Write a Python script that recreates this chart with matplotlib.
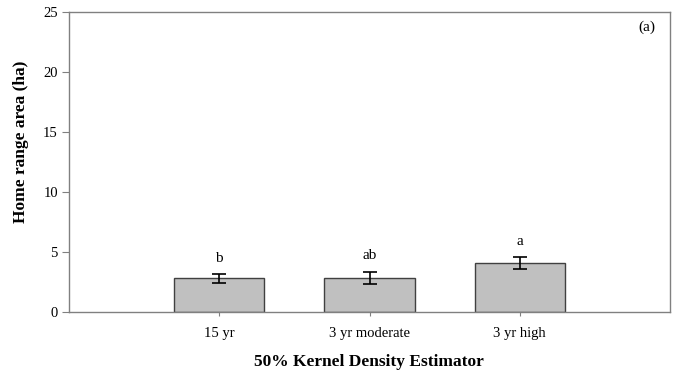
import matplotlib
matplotlib.use("Agg")
import matplotlib.pyplot as plt

plt.rcParams['font.family'] = ['Liberation Serif', 'DejaVu Serif']

categories = ["15 yr", "3 yr moderate", "3 yr high"]
means = [2.8, 2.85, 4.05]
errors = [0.35, 0.5, 0.5]
letters = ["b", "ab", "a"]

W, H = 673, 375
fig = plt.figure(figsize=(W / 100, H / 100), dpi=100)
ax = fig.add_axes([69 / W, 1 - 312 / H, 601 / W, 300 / H])

pos = list(range(1, len(categories) + 1))
ax.bar(pos, means, width=0.6, color="#c0c0c0", edgecolor="#404040", linewidth=1.0, zorder=2)
ax.errorbar(pos, means, yerr=errors, fmt="none", ecolor="black", elinewidth=1.2,
            capsize=5, capthick=1.2, zorder=3)
for x, m, e, t in zip(pos, means, errors, letters):
    ax.text(x, m + e + 1.35, t, ha="center", va="center", fontsize=11)

ax.set_xlim(0, 4)
ax.set_ylim(0, 25)
ax.set_yticks(range(0, 26, 5))
ax.set_xticks(pos)
ax.set_xticklabels(categories)
ax.tick_params(axis="both", direction="out", color="#808080")
ax.tick_params(axis="y", length=5, labelsize=10.5, pad=3)
ax.tick_params(axis="x", length=3, labelsize=10.5, pad=8)
for s in ax.spines.values():
    s.set_color("#808080")
    s.set_linewidth(1.0)

fig.text(21 / W, 1 - 142 / H, "Home range area (ha)", rotation=90, ha="center", va="center",
         fontsize=12.5, fontweight="bold")
fig.text(369 / W, 1 - 362 / H, "50% Kernel Density Estimator", ha="center", va="center",
         fontsize=12.5, fontweight="bold")
ax.text(0.975, 0.95, "(a)", transform=ax.transAxes, ha="right", va="center", fontsize=11)

fig.savefig("out.png", dpi=100)
